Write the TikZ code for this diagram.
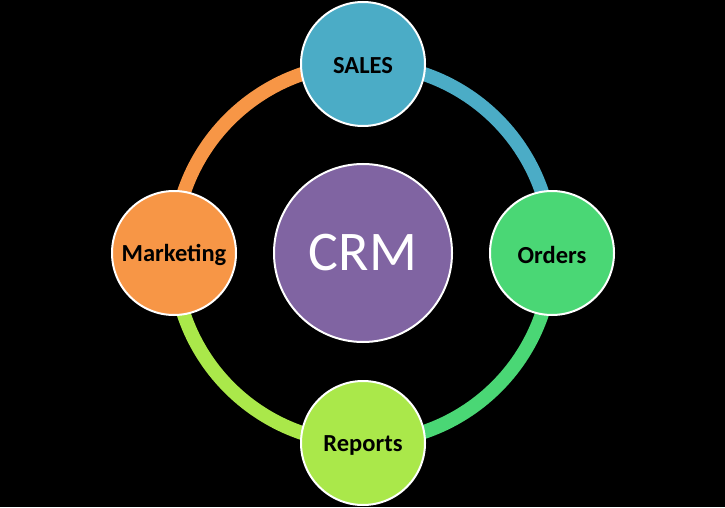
\documentclass[tikz,border=0pt]{standalone}
\usepackage{fontspec}
\setmainfont{Carlito}
\usepackage{xcolor}
\definecolor{salesblue}{HTML}{4BACC6}
\definecolor{ordergreen}{HTML}{4AD775}
\definecolor{reportlime}{HTML}{AAE84A}
\definecolor{mktorange}{HTML}{F79646}
\definecolor{crmpurple}{HTML}{8064A2}
\begin{document}
\begin{tikzpicture}[x=1pt,y=1pt,
  ring/.style={line width=14pt},
  item/.style={circle,draw=white,line width=2pt,minimum size=124pt,inner sep=0pt,
    text depth=0pt,font=\fontsize{24.5}{28}\selectfont\bfseries,text=black},
  word/.style={text=black,font=\fontsize{24.5}{28}\selectfont\bfseries,yshift=-2pt}]
\fill [black] (0,0) rectangle (725,507);
\useasboundingbox (0,0) rectangle (725,507);
\coordinate (c) at (363,254);
\coordinate (top) at (363,443);
\coordinate (right) at (552,254);
\coordinate (bottom) at (363,64);
\coordinate (left) at (174,254);
\draw [ring,salesblue] (top) arc (90:0:189);
\draw [ring,ordergreen] (right) arc (0:-90:189);
\draw [ring,reportlime] (bottom) arc (-90:-180:189);
\draw [ring,mktorange] (left) arc (180:90:189);
\node [circle,draw=white,line width=2pt,minimum size=178pt,fill=crmpurple,text=white,
  font=\fontsize{56}{60}\selectfont] (crm) at (c) {CRM};
\node [item,fill=salesblue,label={[word]center:SALES}] (sales) at (top) {};
\node [item,fill=ordergreen,label={[word]center:Orders}] (orders) at (right) {};
\node [item,fill=reportlime,label={[word]center:Reports}] (reports) at (bottom) {};
\node [item,fill=mktorange,label={[word]center:Marketing}] (marketing) at (left) {};
\end{tikzpicture}
\end{document}
